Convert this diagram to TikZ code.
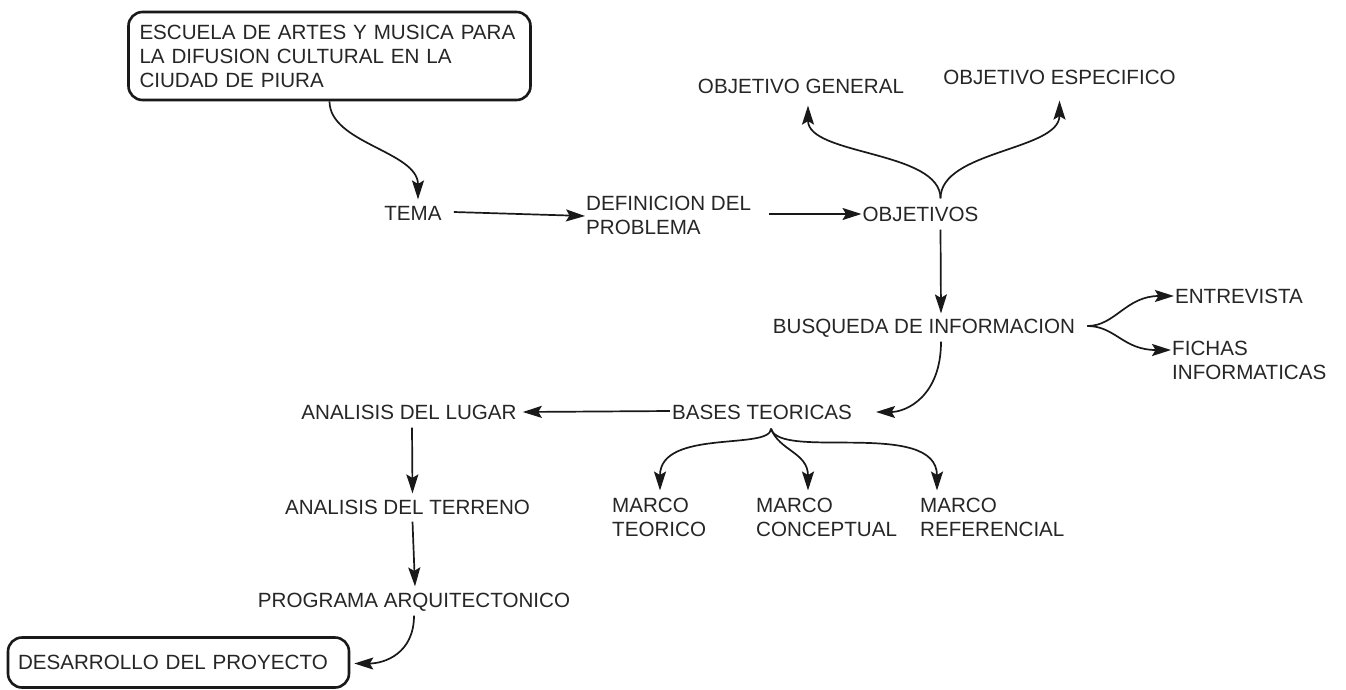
\documentclass[tikz,border=0pt]{standalone}
\usepackage{fontspec}
\setmainfont{Liberation Sans}
\usetikzlibrary{arrows.meta,calc}
\begin{document}
\begin{tikzpicture}[x=1pt,y=-1pt,
  lbl/.style={inner sep=0pt, font=\fontsize{20.6}{24}\selectfont, text=black!85, align=left},
  one/.style={lbl, text height=14.8pt, text depth=0pt},
  rbox/.style={draw=black!90, line width=2.6pt, rounded corners=14pt, text=black!85},
  arr/.style={draw=black!90, line width=1.7pt, -{Stealth[length=19pt,width=12pt,inset=3.5pt]}}]
\useasboundingbox[fill=white] (0,0) rectangle (1346,689);

% boxes
\node[rbox, font=\fontsize{20.6}{24}\selectfont, text width=380pt, inner xsep=11pt, inner ysep=0pt,
      minimum height=88pt, align=left] (top) at (329.5,56)
  {ESCUELA DE ARTES Y MUSICA PARA\\LA DIFUSION CULTURAL EN LA\\CIUDAD DE PIURA};
\node[rbox, font=\fontsize{20.6}{24}\selectfont, text width=321pt, inner xsep=10pt, inner ysep=0pt,
      minimum height=50pt, align=left, text height=14.8pt, text depth=0pt] (des) at (178.5,662.5)
  {DESARROLLO DEL PROYECTO};

% labels
\node[one] (tema) at (413,213) {TEMA};
\node[lbl, anchor=west] (def) at (586,215) {DEFINICION DEL\\PROBLEMA};
\node[one] (obj) at (920.5,214) {OBJETIVOS};
\node[one] (objg) at (801,86) {OBJETIVO GENERAL};
\node[one] (obje) at (1059.5,77) {OBJETIVO ESPECIFICO};
\node[one] (busq) at (924,326) {BUSQUEDA DE INFORMACION};
\node[one] (entr) at (1239,296) {ENTREVISTA};
\node[lbl, anchor=west] (fich) at (1172,360) {FICHAS\\INFORMATICAS};
\node[one] (bases) at (762,412) {BASES TEORICAS};
\node[one] (alug) at (409,412) {ANALISIS DEL LUGAR};
\node[one] (ater) at (407.5,507) {ANALISIS DEL TERRENO};
\node[lbl, anchor=west] (mt) at (612,517) {MARCO\\TEORICO};
\node[lbl, anchor=west] (mc) at (756,517) {MARCO\\CONCEPTUAL};
\node[lbl, anchor=west] (mr) at (920,517) {MARCO\\REFERENCIAL};
\node[one] (prog) at (414,600) {PROGRAMA ARQUITECTONICO};

% branch points
\coordinate (objtop) at ($(obj.north)+(20,-8)$);
\coordinate (busqr) at ($(busq.east)+(12,0)$);
\coordinate (br) at ($(bases.south)+(9,9)$);

% connectors
\draw[arr] (top.south) .. controls +(0,42) and +(0,-48) .. ($(tema.north)+(5,-6)$);
\draw[arr] ($(tema.east)+(12,-1)$) -- ($(def.west)+(-1,1)$);
\draw[arr] ($(def.east)+(18,-1)$) -- ($(obj.west)+(-1,0)$);
\draw[arr] (objtop) .. controls +(0,-48) and +(0,50) .. ($(objg.south)+(7,12)$);
\draw[arr] (objtop) .. controls +(0,-48) and +(0,50) .. ($(obje.south)+(0,16)$);
\draw[arr] ($(obj.south)+(20,8)$) -- ($(busq.north)+(17,-5)$);
\draw[arr] ($(busq.south)+(17,8)$) .. controls +(0,55) and +(30,0) .. ($(bases.east)+(24,0)$);
\draw[arr] (busqr) .. controls +(28,0) and +(-48,0) .. ($(entr.west)+(-1,0)$);
\draw[arr] (busqr) .. controls +(28,0) and +(-48,0) .. ($(fich.west)+(-1,-10)$);
\draw[arr] ($(bases.west)+(-2,-1)$) -- ($(alug.east)+(6,0)$);
\draw[arr] (br) .. controls +(0,22) and +(0,-62) .. ($(mt.north west)+(48,-7)$);
\draw[arr] (br) .. controls +(8,22) and +(0,-38) .. ($(mc.north west)+(52,-7)$);
\draw[arr] (br) .. controls +(8,32) and +(0,-72) .. ($(mr.north west)+(17,-7)$);
\draw[arr] ($(alug.south)+(3,8)$) -- ($(ater.north)+(5,-6)$);
\draw[arr] ($(ater.south)+(5,7)$) -- ($(prog.north)+(1,-6)$);
\draw[arr] ($(prog.south)+(0,8)$) .. controls +(0,38) and +(30,0) .. ($(des.east)+(4,1)$);
\end{tikzpicture}
\end{document}
